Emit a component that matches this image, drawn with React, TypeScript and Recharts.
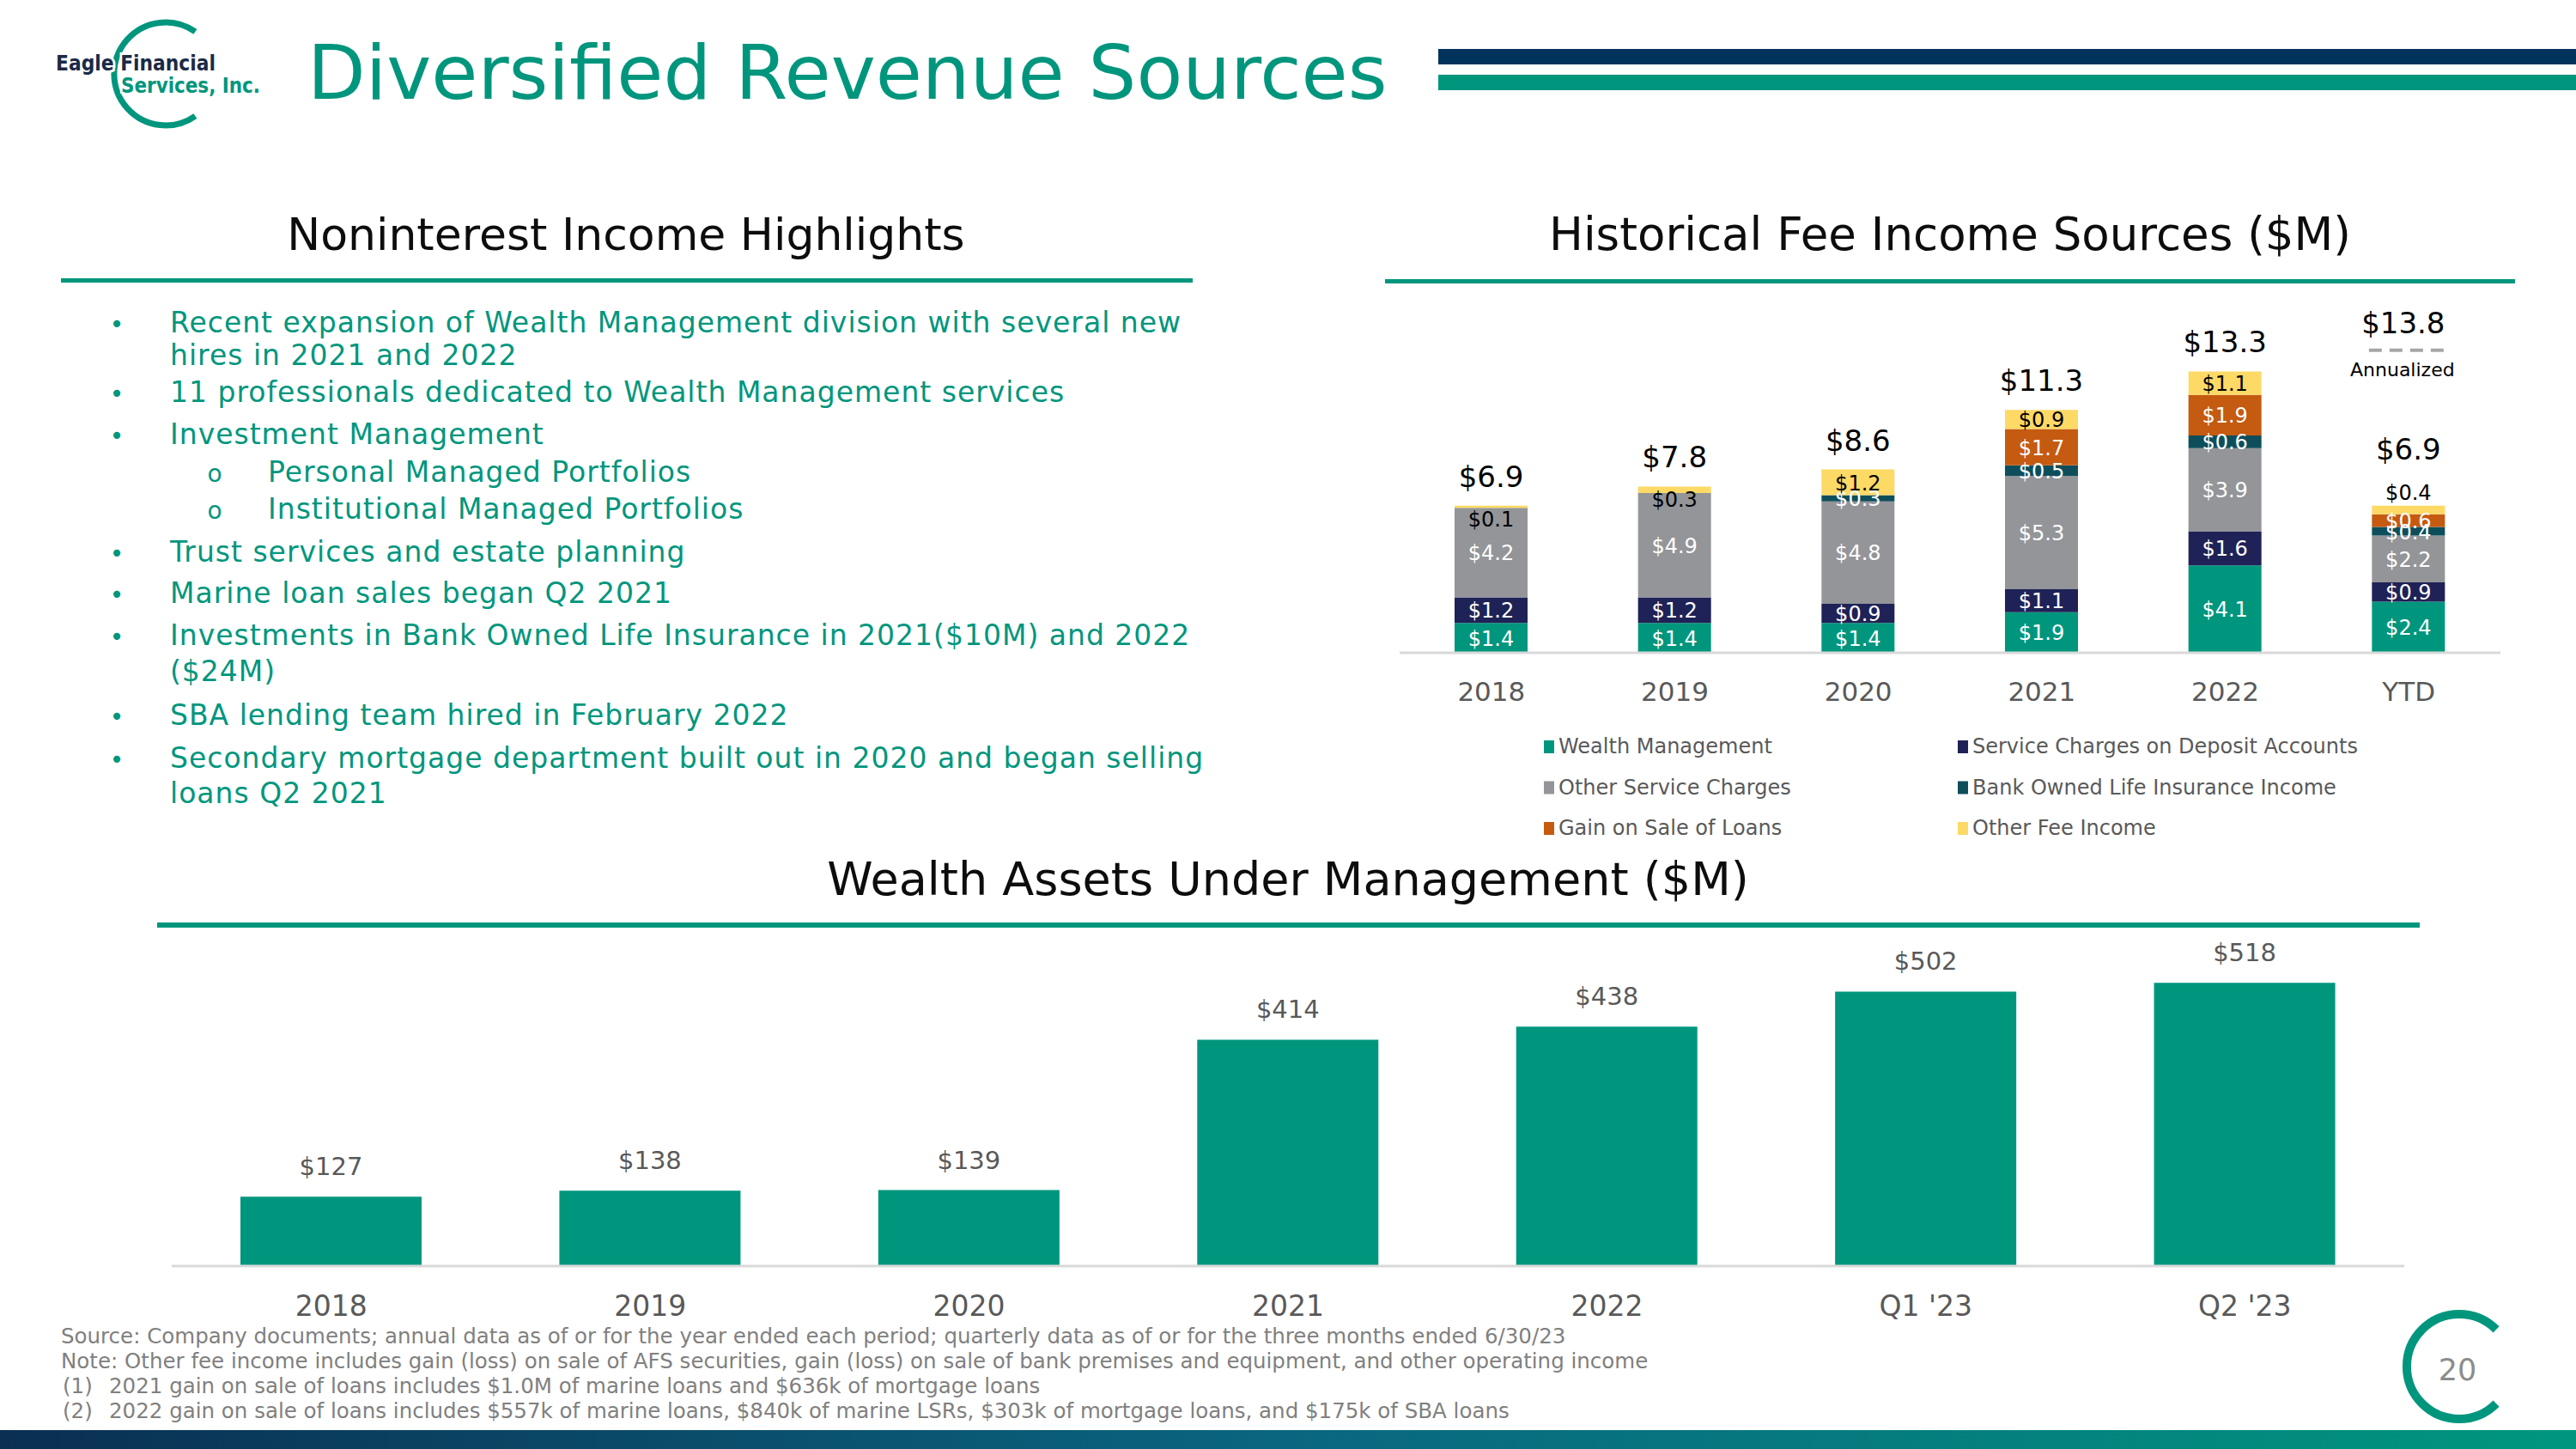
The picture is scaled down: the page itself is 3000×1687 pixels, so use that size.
// App.tsx
// Slide: Diversified Revenue Sources – stacked fee income + wealth AUM bars.

import React from "react";
import { BarChart, Bar, XAxis, YAxis, LabelList } from "recharts";

const FONT = "'DejaVu Sans', 'Noto Sans', sans-serif";
const TEAL = "#00967d";
const NAVY = "#00335b";
const AXIS_GREY = "#d9d9d9";
const TICK_GREY = "#595959";

// Historical fee income sources ($M), stacked bottom to top
const feeYears = ["2018", "2019", "2020", "2021", "2022", "YTD"];
const wealthManagement = [1.4, 1.4, 1.4, 1.9, 4.1, 2.4];
const depositCharges = [1.2, 1.2, 0.9, 1.1, 1.6, 0.9];
const otherServiceCharges = [4.2, 4.9, 4.8, 5.3, 3.9, 2.2];
const boliIncome = [0, 0, 0.3, 0.5, 0.6, 0.4];
const loanSaleGains = [0, 0, 0, 1.7, 1.9, 0.6];
const otherFeeIncome = [0.1, 0.3, 1.2, 0.9, 1.1, 0.4];
const feeTotals = [6.9, 7.8, 8.6, 11.3, 13.3, 6.9];
const gainFootnotes = ["", "", "", "(1)", "(2)", ""];
const ytdAnnualized = 13.8;

// Wealth assets under management ($M)
const aumPeriods = ["2018", "2019", "2020", "2021", "2022", "Q1 '23", "Q2 '23"];
const aumValues = [127, 138, 139, 414, 438, 502, 518];

const feeSeries = [
  { key: "wm", name: "Wealth Management", color: TEAL, values: wealthManagement, text: "#fff" },
  { key: "dep", name: "Service Charges on Deposit Accounts", color: "#1f2256", values: depositCharges, text: "#fff" },
  { key: "osc", name: "Other Service Charges", color: "#939598", values: otherServiceCharges, text: "#fff" },
  { key: "boli", name: "Bank Owned Life Insurance Income", color: "#0e4e5b", values: boliIncome, text: "#fff" },
  { key: "gain", name: "Gain on Sale of Loans", color: "#c55a11", values: loanSaleGains, text: "#fff" },
  { key: "other", name: "Other Fee Income", color: "#fdd966", values: otherFeeIncome, text: "#000" },
];

const feeData = feeYears.map((year, i) => {
  const row: Record<string, string | number> = { year, total: feeTotals[i] };
  feeSeries.forEach((s) => {
    row[s.key] = s.values[i];
  });
  return row;
});

const aumData = aumPeriods.map((period, i) => ({ period, aum: aumValues[i] }));

const bullets = [
  { text: "Recent expansion of Wealth Management division with several new", y: 387, mark: "•" },
  { text: "hires in 2021 and 2022", y: 425 },
  { text: "11 professionals dedicated to Wealth Management services", y: 468, mark: "•" },
  { text: "Investment Management", y: 517, mark: "•" },
  { text: "Personal Managed Portfolios", y: 561, mark: "o", sub: true },
  { text: "Institutional Managed Portfolios", y: 604, mark: "o", sub: true },
  { text: "Trust services and estate planning", y: 654, mark: "•" },
  { text: "Marine loan sales began Q2 2021", y: 702, mark: "•" },
  { text: "Investments in Bank Owned Life Insurance in 2021($10M) and 2022", y: 751, mark: "•" },
  { text: "($24M)", y: 793 },
  { text: "SBA lending team hired in February 2022", y: 844, mark: "•" },
  { text: "Secondary mortgage department built out in 2020 and began selling", y: 894, mark: "•" },
  { text: "loans Q2 2021", y: 935 },
];

const footnotes = [
  { lead: "", text: "Source: Company documents; annual data as of or for the year ended each period; quarterly data as of or for the three months ended 6/30/23" },
  { lead: "", text: "Note: Other fee income includes gain (loss) on sale of AFS securities, gain (loss) on sale of bank premises and equipment, and other operating income" },
  { lead: "(1)", text: "2021 gain on sale of loans includes $1.0M of marine loans and $636k of mortgage loans" },
  { lead: "(2)", text: "2022 gain on sale of loans includes $557k of marine loans, $840k of marine LSRs, $303k of mortgage loans, and $175k of SBA loans" },
];

// label props differ a bit between recharts versions – read the rect either way
// eslint-disable-next-line @typescript-eslint/no-explicit-any
const box = (p: any) => {
  const v = p.viewBox && p.viewBox.width != null ? p.viewBox : p;
  const x = Number(v.x);
  const y = Number(v.y);
  const w = Number(v.width);
  const h = Number(v.height);
  return { x, top: Math.min(y, y + h), w, h: Math.abs(h) };
};

const segmentLabel = (fill: string, isTop: boolean, notes?: string[]) =>
  // eslint-disable-next-line @typescript-eslint/no-explicit-any
  (p: any) => {
    const value = Number(p.value);
    if (!value) return null;
    const { x, top, w, h } = box(p);
    const cx = x + w / 2;
    let baseline = top + h / 2 + 9;
    // thin top slices: label sits just inside (or above, for YTD)
    if (isTop && h < 14) baseline = p.index === feeYears.length - 1 ? top - 7 : top + 24;
    const note = notes ? notes[p.index] : "";
    return (
      <g>
        <text x={cx} y={baseline} textAnchor="middle" fill={fill} fontSize={24} fontFamily={FONT}>
          {`$${value.toFixed(1)}`}
        </text>
        {note ? (
          <text x={cx + 21} y={baseline - 10} fill={fill} fontSize={16} fontFamily={FONT}>
            {note}
          </text>
        ) : null}
      </g>
    );
  };

// eslint-disable-next-line @typescript-eslint/no-explicit-any
const totalLabel = (p: any) => {
  const { x, top, w } = box(p);
  const cx = x + w / 2;
  const last = p.index === feeYears.length - 1;
  return (
    <g fontFamily={FONT}>
      <text x={cx} y={top - (last ? 54 : 22)} textAnchor="middle" fontSize={34} fill="#000">
        {`$${Number(p.value).toFixed(1)}`}
      </text>
      {last ? (
        <g>
          <text x={cx - 6} y={top - 201} textAnchor="middle" fontSize={34} fill="#000">
            {`$${ytdAnnualized.toFixed(1)}`}
          </text>
          <line x1={cx - 46} x2={cx + 44} y1={top - 181} y2={top - 181} stroke="#a6a6a6" strokeWidth={4} strokeDasharray="15 9" />
          <text x={cx - 7} y={top - 151} textAnchor="middle" fontSize={22} fill="#000">
            Annualized
          </text>
        </g>
      ) : null}
    </g>
  );
};

// eslint-disable-next-line @typescript-eslint/no-explicit-any
const feeTick = (p: any) => (
  <text x={p.x} y={p.y + 56} textAnchor="middle" fontSize={31} fill={TICK_GREY} fontFamily={FONT}>
    {p.payload.value}
  </text>
);

// eslint-disable-next-line @typescript-eslint/no-explicit-any
const aumTick = (p: any) => (
  <text x={p.x} y={p.y + 58} textAnchor="middle" fontSize={33} fill={TICK_GREY} fontFamily={FONT}>
    {p.payload.value}
  </text>
);

// eslint-disable-next-line @typescript-eslint/no-explicit-any
const aumLabel = (p: any) => {
  const { x, top, w } = box(p);
  return (
    <text x={x + w / 2} y={top - 25} textAnchor="middle" fontSize={29} fill={TICK_GREY} fontFamily={FONT}>
      {`$${p.value}`}
    </text>
  );
};

const Slide: React.FC = () => (
  <svg width={3000} height={1687} style={{ position: "absolute", left: 0, top: 0 }} fontFamily={FONT}>
    <defs>
      <linearGradient id="footBar" x1="0" x2="1" y1="0" y2="0">
        <stop offset="0" stopColor="#0a2f52" />
        <stop offset="0.5" stopColor="#0a6680" />
        <stop offset="1" stopColor={TEAL} />
      </linearGradient>
    </defs>

    {/* logo */}
    <path d="M 227.4 36.9 A 60 60 0 1 0 227.4 135.1" fill="none" stroke={TEAL} strokeWidth={7} />
    <text x={65} y={82} fontSize={24} fontWeight="bold" fill="#1b2a47" textLength={186} lengthAdjust="spacingAndGlyphs" stroke="#fff" strokeWidth={6} paintOrder="stroke">
      Eagle Financial
    </text>
    <text x={141} y={108} fontSize={24} fontWeight="bold" fill={TEAL} textLength={162} lengthAdjust="spacingAndGlyphs" stroke="#fff" strokeWidth={6} paintOrder="stroke">
      Services, Inc.
    </text>

    <text x={358} y={115} fontSize={88} fill={TEAL}>
      Diversified Revenue Sources
    </text>
    <rect x={1675} y={57} width={1325} height={18} fill={NAVY} />
    <rect x={1675} y={87} width={1325} height={18} fill={TEAL} />

    {/* section headers */}
    <text x={729} y={291} textAnchor="middle" fontSize={52} fill="#0d0d0d">
      Noninterest Income Highlights
    </text>
    <rect x={71} y={324} width={1318} height={5} fill={TEAL} />
    <text x={2271} y={291} textAnchor="middle" fontSize={53} fill="#0d0d0d">
      Historical Fee Income Sources ($M)
    </text>
    <rect x={1613} y={325} width={1316} height={5} fill={TEAL} />
    <text x={1500} y={1042} textAnchor="middle" fontSize={54} fill="#0d0d0d">
      Wealth Assets Under Management ($M)
    </text>
    <rect x={183} y={1074} width={2635} height={6} fill={TEAL} />

    {/* highlights */}
    {bullets.map((b) => (
      <g key={b.text} fill={TEAL}>
        {b.mark ? (
          <text x={b.sub ? 250 : 136} y={b.y} textAnchor="middle" fontSize={28}>
            {b.mark}
          </text>
        ) : null}
        <text x={b.sub ? 312 : 198} y={b.y} fontSize={33} letterSpacing={1}>
          {b.text}
        </text>
      </g>
    ))}

    {/* fee chart legend */}
    {feeSeries.map((s, i) => {
      const x = i % 2 ? 2280 : 1798;
      const y = 877 + Math.floor(i / 2) * 47.5;
      return (
        <g key={s.key}>
          <rect x={x} y={y - 15} width={12} height={15} fill={s.color} />
          <text x={x + 17} y={y} fontSize={24} fill={TICK_GREY}>
            {s.name}
          </text>
        </g>
      );
    })}

    {/* footnotes */}
    {footnotes.map((f, i) => (
      <g key={f.text} fill="#808080" fontSize={24.5}>
        {f.lead ? (
          <text x={73} y={1564 + i * 29}>
            {f.lead}
          </text>
        ) : null}
        <text x={f.lead ? 127 : 71} y={1564 + i * 29}>
          {f.text}
        </text>
      </g>
    ))}

    {/* page marker */}
    <path d="M 2907.1 1547.9 A 61 61 0 1 0 2907.1 1634.1" fill="none" stroke={TEAL} strokeWidth={10} />
    <text x={2862} y={1607} textAnchor="middle" fontSize={35} fill="#8c8c8c">
      20
    </text>
    <rect x={0} y={1665} width={3000} height={22} fill="url(#footBar)" />
  </svg>
);

export default function App() {
  return (
    <div
      style={{
        position: "absolute",
        left: 0,
        top: 0,
        width: 3000,
        height: 1687,
        background: "#fff",
        overflow: "hidden",
        fontFamily: FONT,
      }}
    >
      <Slide />

      <div style={{ position: "absolute", left: 1630, top: 330 }}>
        <BarChart width={1282} height={500} data={feeData} margin={{ top: 33, right: 0, bottom: 0, left: 0 }} barSize={85}>
          <XAxis
            dataKey="year"
            axisLine={{ stroke: AXIS_GREY, strokeWidth: 3 }}
            tickLine={false}
            tickSize={0}
            tickMargin={0}
            height={70}
            interval={0}
            tick={feeTick}
          />
          <YAxis hide domain={[0, 16]} />
          {feeSeries.map((s, i) => {
            const isTop = i === feeSeries.length - 1;
            return (
              <Bar key={s.key} dataKey={s.key} name={s.name} stackId="fee" fill={s.color} isAnimationActive={false}>
                <LabelList dataKey={s.key} content={segmentLabel(s.text, isTop, s.key === "gain" ? gainFootnotes : undefined)} />
                {isTop ? <LabelList dataKey="total" content={totalLabel} /> : null}
              </Bar>
            );
          })}
        </BarChart>
      </div>

      <div style={{ position: "absolute", left: 200, top: 1060 }}>
        <BarChart width={2600} height={494} data={aumData} margin={{ top: 32, right: 0, bottom: 0, left: 0 }} barSize={211}>
          <XAxis
            dataKey="period"
            axisLine={{ stroke: AXIS_GREY, strokeWidth: 3 }}
            tickLine={false}
            tickSize={0}
            tickMargin={0}
            height={80}
            interval={0}
            tick={aumTick}
          />
          <YAxis hide domain={[0, 600]} />
          <Bar dataKey="aum" name="Wealth AUM" fill={TEAL} isAnimationActive={false}>
            <LabelList dataKey="aum" content={aumLabel} />
          </Bar>
        </BarChart>
      </div>
    </div>
  );
}
